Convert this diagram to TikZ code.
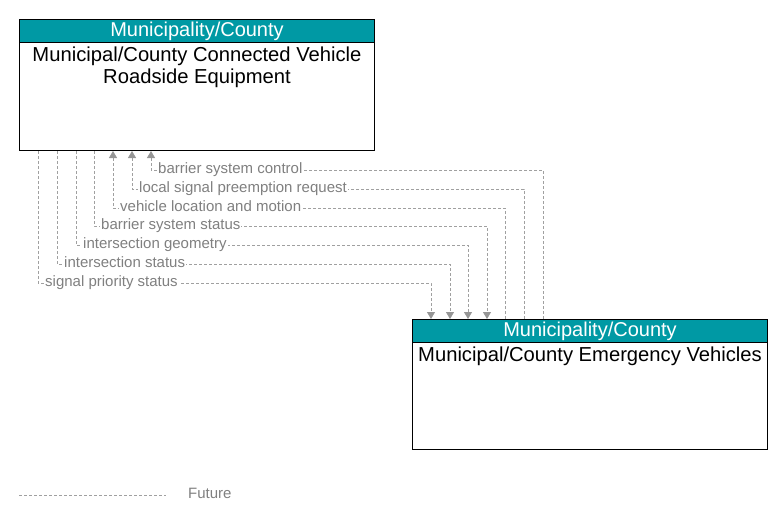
\documentclass[tikz,border=0pt]{standalone}
\usepackage{fontspec}
\setmainfont{Liberation Sans}
\usetikzlibrary{positioning}
\usetikzlibrary{arrows.meta}
\definecolor{hdrteal}{RGB}{0,153,164}
\definecolor{flowgrey}{RGB}{160,160,160}
\definecolor{tipgrey}{RGB}{150,150,150}
\definecolor{labgrey}{RGB}{128,128,128}
\begin{document}
\begin{tikzpicture}[x=1pt,y=-1pt,
  box/.style={draw=black,line width=1pt,minimum width=355pt,anchor=north west,inner sep=0pt},
  hdr/.style={draw=black,line width=1pt,fill=hdrteal,text=white,minimum width=355pt,minimum height=23pt,anchor=north west,inner sep=0pt,font=\fontsize{20}{22.7}\selectfont},
  body/.style={align=center,inner sep=0pt,font=\fontsize{20.2}{22}\selectfont},
  flow/.style={draw=flowgrey,line width=0.8pt,dash pattern=on 3pt off 2pt},
  toarrow/.style={-{Triangle[width=8pt,length=7pt,fill=tipgrey,color=tipgrey]}},
  lab/.style={anchor=west,fill=white,inner sep=1pt,text height=11pt,text depth=5pt,text=labgrey,font=\fontsize{15}{16}\selectfont}]
\useasboundingbox (0,0) rectangle (783,524);

\node[box,minimum height=131pt] (rsu) at (19,19) {};
\node[hdr] (rsuhdr) at (rsu.north west) {Municipality/County};
\node[body,below=3.5pt of rsuhdr] (rsuname) {Municipal/County Connected Vehicle\\Roadside Equipment};

\node[box,minimum height=130pt] (ev) at (412,319) {};
\node[hdr] (evhdr) at (ev.north west) {Municipality/County};
\node[body,below=3.5pt of evhdr] (evname) {Municipal/County Emergency Vehicles};

\coordinate (bsc) at ([xshift=132pt,yshift=-19pt]rsu.south west);
\coordinate (lspr) at ([xshift=113pt,yshift=-38pt]rsu.south west);
\coordinate (vlm) at ([xshift=94pt,yshift=-57pt]rsu.south west);
\coordinate (bss) at ([xshift=75pt,yshift=-75pt]rsu.south west);
\coordinate (ig) at ([xshift=57pt,yshift=-94pt]rsu.south west);
\coordinate (is) at ([xshift=38pt,yshift=-113pt]rsu.south west);
\coordinate (sps) at ([xshift=19pt,yshift=-132pt]rsu.south west);

\draw[flow,toarrow] ([xshift=131pt]ev.north west) |- (bsc) -- ([xshift=132pt]rsu.south west);
\draw[flow,toarrow] ([xshift=112pt]ev.north west) |- (lspr) -- ([xshift=113pt]rsu.south west);
\draw[flow,toarrow] ([xshift=93pt]ev.north west) |- (vlm) -- ([xshift=94pt]rsu.south west);
\draw[flow,toarrow] ([xshift=75pt]rsu.south west) -- (bss) -| ([xshift=75pt]ev.north west);
\draw[flow,toarrow] ([xshift=57pt]rsu.south west) -- (ig) -| ([xshift=56pt]ev.north west);
\draw[flow,toarrow] ([xshift=38pt]rsu.south west) -- (is) -| ([xshift=38pt]ev.north west);
\draw[flow,toarrow] ([xshift=19pt]rsu.south west) -- (sps) -| ([xshift=19pt]ev.north west);

\node[lab] at ([xshift=6pt]bsc) {barrier system control};
\node[lab] at ([xshift=6pt]lspr) {local signal preemption request};
\node[lab] at ([xshift=6pt]vlm) {vehicle location and motion};
\node[lab] at ([xshift=6pt]bss) {barrier system status};
\node[lab] at ([xshift=6pt]ig) {intersection geometry};
\node[lab] at ([xshift=6pt]is) {intersection status};
\node[lab] at ([xshift=6pt]sps) {signal priority status};

% legend
\coordinate (lgA) at (19,495);
\coordinate (lgB) at (166,495);
\draw[flow] (lgA) -- (lgB);
\node[lab,fill=none] (lgfut) at (187,495) {Future};
\end{tikzpicture}
\end{document}
